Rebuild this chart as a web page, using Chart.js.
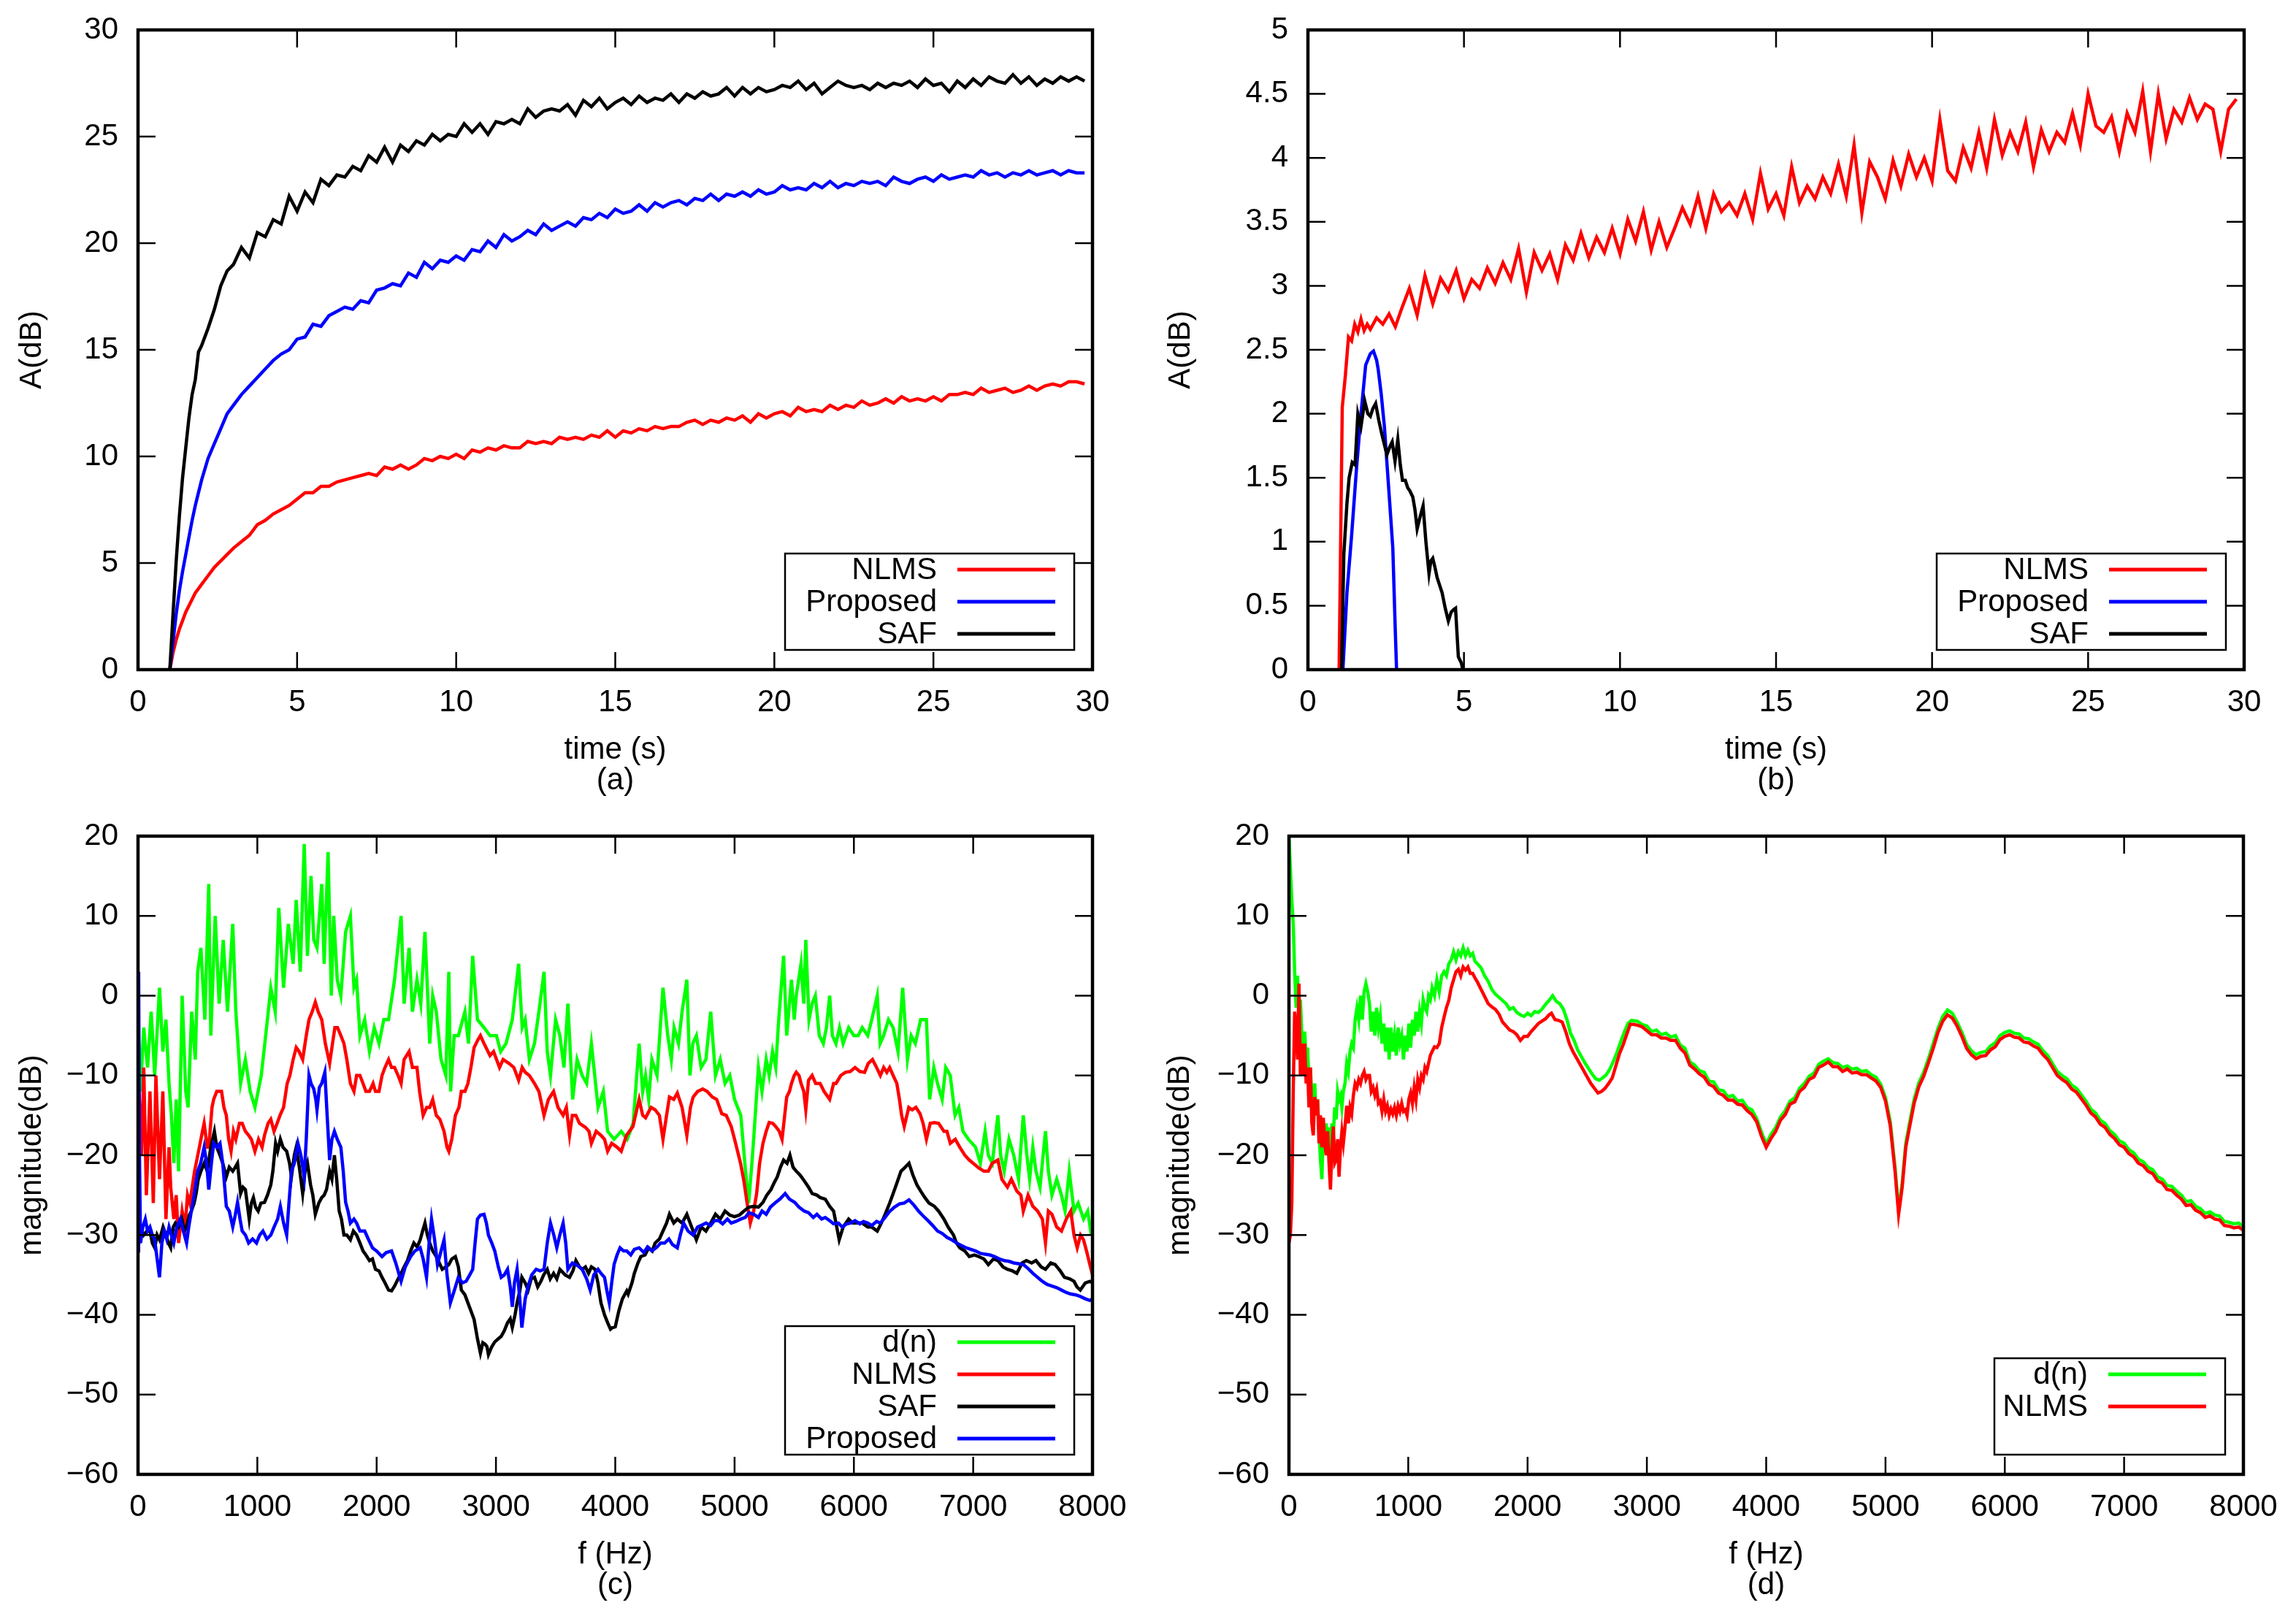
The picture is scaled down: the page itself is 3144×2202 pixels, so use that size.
<!DOCTYPE html>
<html>
<head>
<meta charset="utf-8">
<script src="https://cdn.jsdelivr.net/npm/chart.js@4.4.1/dist/chart.umd.min.js"></script>
<style>
  body { margin: 0; background: #fff; width: 3144px; height: 2202px; position: relative; overflow: hidden; }
  canvas { position: absolute; }
</style>
</head>
<body>
<canvas id="pa" width="1572" height="1101" style="left:0;top:0"></canvas>
<canvas id="pb" width="1572" height="1101" style="left:1572px;top:0"></canvas>
<canvas id="pc" width="1572" height="1101" style="left:0;top:1101px"></canvas>
<canvas id="pd" width="1572" height="1101" style="left:1572px;top:1101px"></canvas>
<script>
// time grid (s) shared by panels (a) and (b)
const timeS = [1,1.1,1.2,1.3,1.4,1.5,1.6,1.7,1.8,1.9,2,2.2,2.4,2.6,2.8,3,
  3.25,3.5,3.75,4,4.25,4.5,4.75,5,5.25,5.5,5.75,6,6.25,6.5,6.75,7,7.25,7.5,7.75,8,8.25,8.5,8.75,9,9.25,9.5,9.75,10,
  10.25,10.5,10.75,11,11.25,11.5,11.75,12,12.25,12.5,12.75,13,13.25,13.5,13.75,14,14.25,14.5,14.75,15,
  15.25,15.5,15.75,16,16.25,16.5,16.75,17,17.25,17.5,17.75,18,18.25,18.5,18.75,19,19.25,19.5,19.75,20,
  20.25,20.5,20.75,21,21.25,21.5,21.75,22,22.25,22.5,22.75,23,23.25,23.5,23.75,24,24.25,24.5,24.75,25,
  25.25,25.5,25.75,26,26.25,26.5,26.75,27,27.25,27.5,27.75,28,28.25,28.5,28.75,29,29.25,29.5,29.75];

// (a) A(dB)
const aNlms = [0,0.8,1.4,1.9,2.3,2.7,3.0,3.3,3.6,3.8,4.0,4.4,4.8,5.1,5.4,5.7,
  6.0,6.3,6.8,7.0,7.3,7.5,7.7,8.0,8.3,8.3,8.6,8.6,8.8,8.9,9.0,9.1,9.2,9.1,9.5,9.4,9.6,9.4,9.6,9.9,9.8,10.0,9.9,10.1,
  9.9,10.3,10.2,10.4,10.3,10.5,10.4,10.4,10.7,10.6,10.7,10.6,10.9,10.8,10.9,10.8,11.0,10.9,11.2,10.9,
  11.2,11.1,11.3,11.2,11.4,11.3,11.4,11.4,11.6,11.7,11.5,11.7,11.6,11.8,11.7,11.9,11.6,12.0,11.8,12.0,
  12.1,11.9,12.3,12.1,12.2,12.1,12.4,12.2,12.4,12.3,12.6,12.4,12.5,12.7,12.5,12.8,12.6,12.7,12.6,12.8,
  12.6,12.9,12.9,13.0,12.9,13.2,13.0,13.1,13.2,13.0,13.1,13.3,13.1,13.3,13.4,13.3,13.5,13.5,13.4];
const aProposed = [0,1.3,2.6,3.7,4.6,5.4,6.2,7.0,7.7,8.3,8.9,9.9,10.6,11.3,12.0,12.4,
  12.9,13.3,13.7,14.1,14.5,14.8,15.0,15.5,15.6,16.2,16.1,16.6,16.8,17.0,16.9,17.3,17.2,17.8,17.9,18.1,18.0,18.6,18.4,19.1,18.8,19.2,19.1,19.4,
  19.2,19.7,19.6,20.1,19.8,20.4,20.1,20.3,20.6,20.4,20.9,20.6,20.8,21.0,20.8,21.2,21.1,21.4,21.2,21.6,
  21.4,21.5,21.8,21.5,21.9,21.7,21.9,22.0,21.8,22.1,22.0,22.3,22.0,22.3,22.2,22.4,22.2,22.5,22.3,22.4,
  22.7,22.5,22.6,22.5,22.8,22.6,22.9,22.6,22.8,22.7,22.9,22.8,22.9,22.7,23.1,22.9,22.8,23.0,23.1,22.9,
  23.2,23.0,23.1,23.2,23.1,23.4,23.2,23.3,23.1,23.3,23.2,23.4,23.2,23.3,23.4,23.2,23.4,23.3,23.3];
const aSaf = [0,2.6,5.1,7.2,9.0,10.4,11.8,12.9,13.6,14.9,15.2,16.0,16.9,18.0,18.7,19.0,
  19.8,19.3,20.5,20.3,21.1,20.9,22.2,21.5,22.4,21.9,23.0,22.7,23.2,23.1,23.6,23.4,24.1,23.8,24.5,23.8,24.6,24.3,24.8,24.6,25.1,24.8,25.1,25.0,
  25.6,25.2,25.6,25.1,25.7,25.6,25.8,25.6,26.3,25.9,26.2,26.3,26.2,26.5,26.0,26.7,26.4,26.8,26.3,26.6,
  26.8,26.5,26.9,26.6,26.8,26.7,27.0,26.6,27.0,26.8,27.1,26.9,27.0,27.3,26.9,27.3,27.0,27.3,27.1,27.2,
  27.4,27.3,27.6,27.2,27.5,27.0,27.3,27.6,27.4,27.3,27.4,27.2,27.5,27.3,27.5,27.4,27.6,27.3,27.7,27.4,
  27.5,27.1,27.6,27.3,27.7,27.4,27.8,27.6,27.5,27.9,27.5,27.8,27.4,27.7,27.5,27.8,27.6,27.8,27.6];

// (b) A(dB)
const bNlms = [0,2.05,2.3,2.6,2.57,2.7,2.64,2.74,2.65,2.7,2.66,2.75,2.7,2.78,2.68,2.82,
  2.98,2.77,3.08,2.86,3.06,2.96,3.12,2.9,3.05,2.98,3.14,3.02,3.18,3.05,3.29,2.95,3.26,3.12,3.25,3.05,3.32,3.2,3.41,3.22,3.38,3.26,3.45,3.25,
  3.52,3.35,3.58,3.28,3.5,3.3,3.45,3.61,3.48,3.7,3.45,3.72,3.58,3.65,3.55,3.72,3.52,3.88,3.6,3.72,
  3.55,3.93,3.65,3.78,3.68,3.85,3.72,3.95,3.7,4.1,3.57,3.97,3.85,3.68,3.98,3.78,4.03,3.85,4.0,3.82,
  4.3,3.9,3.82,4.08,3.92,4.2,3.92,4.3,4.02,4.2,4.05,4.28,3.93,4.22,4.05,4.2,4.12,4.35,4.1,4.5,
  4.25,4.2,4.32,4.05,4.35,4.2,4.52,4.05,4.5,4.15,4.38,4.28,4.47,4.3,4.42,4.38,4.05,4.38,4.46];
const bProposed = [[1.12,0],[1.25,0.6],[1.4,1.05],[1.55,1.55],[1.7,2.0],[1.85,2.38],[2.0,2.47],[2.1,2.49],
  [2.2,2.42],[2.25,2.35],[2.35,2.15],[2.45,1.9],[2.55,1.55],[2.65,1.2],[2.72,0.95],[2.8,0.3],[2.84,0]];
const bSaf = [[1.08,0],[1.15,0.9],[1.25,1.3],[1.32,1.5],[1.42,1.62],[1.51,1.6],[1.6,2.0],[1.7,1.9],[1.82,2.1],[1.92,2.0],
  [2.0,1.98],[2.08,2.04],[2.17,2.08],[2.27,1.95],[2.36,1.85],[2.45,1.76],[2.53,1.68],[2.62,1.74],[2.7,1.78],[2.79,1.63],
  [2.88,1.8],[2.96,1.6],[3.03,1.48],[3.12,1.48],[3.2,1.42],[3.26,1.4],[3.36,1.35],[3.43,1.25],[3.5,1.1],[3.6,1.2],
  [3.69,1.28],[3.78,1.0],[3.88,0.75],[3.94,0.85],[4.0,0.87],[4.07,0.8],[4.14,0.72],[4.22,0.66],[4.3,0.6],[4.4,0.48],
  [4.5,0.38],[4.59,0.45],[4.67,0.47],[4.73,0.48],[4.82,0.1],[4.92,0.05],[4.96,0]];

// (c) magnitude(dB) against f (Hz)
const cDn = [[0,-3],[20,-12],[48,-4],[80,-9],[110,-2],[140,-10],[180,1],[208,-7],[234,-3],[260,-11],
  [280,-15],[300,-21],[320,-13],[340,-22],[370,0],[400,-12],[420,-14],[450,-2],[480,-8],[500,3],
  [527,6],[560,-3],[593,14],[610,-5],[647,10],[680,-1],[714,7],[750,-2],[794,9],[820,-2],
  [860,-11],[900,-8],[940,-12],[980,-14],[1033,-10],[1070,-5],[1113,1],[1150,-2],[1180,11],[1220,1],
  [1260,9],[1300,4],[1326,12],[1360,3],[1393,19],[1420,5],[1450,15],[1473,7],[1500,6],[1540,14],
  [1560,4],[1593,18],[1620,0],[1640,10],[1670,2],[1700,0],[1740,8],[1780,10],[1810,1],[1832,2],
  [1860,-5],[1900,-3],[1940,-7],[1980,-4],[2020,-6],[2060,-3],[2100,-3],[2150,2],[2205,10],[2230,-1],
  [2272,6],[2300,-2],[2338,2],[2370,-1],[2405,8],[2445,-6],[2470,0],[2500,-2],[2540,-8],[2580,-10],
  [2605,3],[2620,-12],[2650,-5],[2685,-5],[2740,-2],[2770,-6],[2805,5],[2845,-3],[2900,-4],[2950,-5],
  [3004,-5],[3040,-7],[3084,-6],[3137,-3],[3190,4],[3220,-4],[3245,-3],[3280,-8],[3323,-6],[3360,-2],
  [3403,3],[3430,-7],[3457,-10],[3500,-3],[3536,-5],[3570,-9],[3603,-1],[3643,-13],[3680,-8],[3723,-10],
  [3760,-11],[3800,-6],[3856,-14],[3900,-12],[3936,-17],[3990,-18],[4050,-17],[4100,-18],[4150,-16],[4200,-6],
  [4230,-12],[4254,-10],[4280,-13],[4307,-8],[4350,-10],[4400,1],[4440,-5],[4470,-8],[4493,-4],[4530,-6],
  [4560,-2],[4600,2],[4626,-10],[4650,-6],[4680,-5],[4720,-9],[4760,-8],[4800,-2],[4840,-10],[4880,-8],
  [4920,-11],[4960,-10],[5000,-13],[5052,-15],[5092,-22],[5118,-26],[5140,-22],[5160,-18],[5200,-9],[5230,-12],
  [5265,-8],[5290,-10],[5318,-7],[5345,-9],[5370,-3],[5411,5],[5437,-5],[5460,-1],[5477,2],[5500,-3],
  [5517,0],[5557,4],[5580,-1],[5597,7],[5624,-3],[5650,-1],[5677,0],[5710,-5],[5744,-6],[5770,-4],
  [5797,0],[5820,-5],[5850,-6],[5880,-4],[5910,-6],[5956,-4],[6000,-5],[6036,-5],[6070,-4],[6116,-5],
  [6150,-3],[6196,0],[6220,-6],[6249,-5],[6290,-3],[6329,-4],[6370,-7],[6409,1],[6449,-8],[6480,-5],
  [6515,-6],[6560,-3],[6608,-3],[6635,-13],[6670,-9],[6701,-11],[6740,-13],[6770,-9],[6808,-10],[6848,-15],
  [6880,-14],[6914,-17],[6960,-18],[7020,-19],[7060,-21],[7100,-17],[7127,-20],[7160,-21],[7207,-15],[7230,-20],
  [7260,-22],[7300,-18],[7340,-20],[7380,-23],[7420,-15],[7450,-20],[7473,-23],[7500,-19],[7526,-22],[7560,-24],
  [7606,-17],[7630,-22],[7660,-25],[7700,-23],[7740,-25],[7770,-27],[7805,-22],[7845,-27],[7880,-26],[7925,-28],
  [7960,-27],[7990,-30]];
const cNlms = [[0,-9],[30,-20],[48,-9],[70,-25],[100,-12],[128,-26],[150,-10],[180,-23],[208,-12],[234,-28],
  [260,-19],[274,-24],[300,-28],[320,-25],[340,-31],[370,-27],[394,-29],[415,-25],[434,-26],[474,-22],
  [514,-19],[540,-17],[554,-16],[580,-19],[593,-19],[620,-14],[634,-13],[660,-12],[700,-12],[720,-14],
  [740,-15],[760,-18],[780,-19.5],[800,-17],[820,-18],[850,-16],[873,-16],[900,-17],[927,-17.5],[950,-18],
  [980,-19.5],[1010,-18],[1040,-19],[1060,-17.5],[1090,-16],[1113,-15.5],[1140,-17],[1166,-16],[1190,-15],[1220,-14],
  [1250,-11],[1273,-10],[1300,-8],[1326,-6.5],[1350,-7],[1380,-8],[1410,-5],[1433,-3],[1460,-2],[1486,-0.8],
  [1510,-2],[1540,-3],[1570,-6],[1606,-8.5],[1630,-6],[1650,-4],[1672,-4],[1700,-5],[1726,-6],[1750,-8],
  [1780,-11],[1810,-12],[1832,-10],[1860,-10],[1886,-11],[1910,-12],[1940,-12],[1970,-11],[1990,-12],[2020,-12],
  [2045,-10],[2070,-9],[2100,-8],[2125,-9],[2150,-9],[2180,-10],[2205,-11],[2230,-8],[2272,-7],[2300,-9],
  [2338,-9],[2360,-12],[2390,-15],[2420,-14],[2445,-14],[2470,-13],[2500,-15],[2530,-15.5],[2565,-17],[2590,-19],
  [2605,-19.5],[2630,-18],[2660,-15],[2690,-14],[2710,-12],[2740,-12],[2765,-11],[2790,-9],[2817,-6.5],[2850,-5.5],
  [2870,-5],[2900,-6],[2950,-7.5],[2980,-7],[3030,-9],[3060,-8],[3110,-8.5],[3150,-9],[3190,-10.6],[3220,-9],
  [3245,-9.6],[3280,-10],[3323,-11],[3360,-12],[3403,-15],[3440,-13],[3483,-12],[3520,-14],[3563,-15],[3590,-14],
  [3617,-17.5],[3640,-15],[3670,-15],[3700,-16],[3750,-16.5],[3780,-17],[3800,-18.5],[3840,-17],[3880,-17.5],[3910,-18],
  [3936,-19.5],[3970,-18.5],[4016,-19],[4050,-19.5],[4094,-17.5],[4148,-16.4],[4200,-13],[4230,-15],[4254,-15.3],[4300,-14],
  [4334,-14.3],[4370,-15],[4400,-18],[4430,-15],[4454,-12.7],[4490,-13],[4520,-12.2],[4560,-14],[4600,-17.5],[4630,-14],
  [4653,-12.7],[4690,-12],[4733,-11.7],[4770,-12],[4813,-12.7],[4850,-13],[4893,-14.8],[4930,-15],[4972,-16.4],[5000,-18],
  [5025,-19.5],[5050,-21],[5078,-23.2],[5105,-26],[5132,-28.5],[5160,-27],[5185,-24.8],[5210,-21],[5238,-18.5],[5265,-17],
  [5290,-15.9],[5320,-16],[5345,-16.4],[5375,-17],[5398,-18],[5420,-15],[5437,-12.7],[5460,-12],[5477,-11],[5500,-10],
  [5517,-9.6],[5540,-10],[5557,-11],[5580,-12],[5597,-14.3],[5620,-10.6],[5650,-10],[5680,-11],[5717,-11],[5750,-12],
  [5797,-13],[5830,-11],[5850,-11],[5890,-10],[5930,-9.6],[5970,-9.5],[6010,-9],[6050,-9.5],[6090,-9.6],[6120,-8.5],
  [6156,-8],[6190,-9],[6222,-10],[6250,-9],[6276,-9.6],[6300,-9],[6329,-10],[6360,-11],[6382,-13],[6400,-15],
  [6422,-16.4],[6460,-14],[6489,-14.3],[6520,-14],[6555,-14.8],[6580,-16],[6608,-18],[6640,-16],[6675,-15.9],[6710,-16],
  [6755,-17],[6780,-17],[6808,-18.5],[6850,-18],[6888,-19],[6930,-20],[6967,-20.6],[7000,-21],[7047,-21.6],[7090,-22],
  [7127,-22],[7160,-21],[7207,-20.6],[7240,-23],[7287,-24],[7320,-23],[7366,-24.5],[7400,-25],[7420,-27],[7460,-25],
  [7500,-26.4],[7540,-27],[7580,-28],[7606,-31],[7630,-27],[7660,-27.4],[7700,-29],[7740,-29.5],[7780,-28],[7818,-27],
  [7845,-30],[7872,-31.6],[7900,-30],[7925,-30.6],[7950,-32],[7978,-33.7],[8000,-35]];
const cSaf = [[0,-32],[20,-29],[48,-30],[75,-29.5],[100,-29.5],[120,-31],[140,-31.6],[160,-30],[180,-30.6],[210,-29],
  [234,-30],[255,-31],[274,-31.6],[295,-29],[314,-28.5],[340,-29],[367,-28],[390,-29.5],[407,-29],[430,-27.5],
  [447,-27],[470,-26],[487,-24.8],[505,-23],[527,-22],[555,-21],[580,-22],[610,-19],[640,-17],[660,-19],
  [687,-20],[710,-21],[740,-22.7],[765,-21.5],[794,-22],[815,-21.5],[834,-21],[860,-24.8],[880,-24],[900,-24.3],
  [932,-28],[950,-26],[967,-25.3],[985,-26.5],[1007,-27],[1030,-26],[1060,-25.9],[1085,-25],[1113,-23.7],[1130,-22],
  [1153,-18.5],[1170,-19.5],[1193,-18],[1215,-19],[1246,-19.5],[1270,-21],[1286,-22.7],[1310,-20],[1326,-19],[1353,-21.6],
  [1380,-24.8],[1400,-22],[1420,-21],[1446,-23.7],[1465,-25],[1486,-27.4],[1515,-26],[1540,-25.3],[1560,-25],[1580,-24.3],
  [1606,-22],[1625,-23],[1646,-20],[1665,-23],[1686,-27],[1705,-28],[1726,-30],[1750,-30],[1780,-30.6],[1805,-29.5],
  [1832,-30],[1860,-31],[1886,-32],[1910,-32.5],[1940,-33.2],[1965,-33],[1990,-34.3],[2020,-34.5],[2045,-35.3],[2070,-36],
  [2100,-36.9],[2125,-37],[2150,-36.4],[2180,-35.5],[2205,-34.8],[2230,-34],[2258,-33.2],[2285,-32],[2312,-31],[2340,-31.5],
  [2365,-30.6],[2385,-29.5],[2405,-28.5],[2425,-30],[2445,-31],[2470,-32],[2500,-32.7],[2525,-33.5],[2550,-34.3],[2580,-34],
  [2605,-33.7],[2630,-33],[2660,-32.7],[2685,-34],[2710,-36.9],[2740,-37.5],[2765,-38.5],[2790,-39.5],[2817,-40.6],[2845,-43],
  [2870,-44.8],[2890,-43.5],[2910,-43.7],[2925,-44],[2937,-45],[2965,-44],[2990,-43.4],[3020,-43],[3044,-42.7],[3070,-42],
  [3097,-41],[3120,-40.5],[3137,-41.6],[3160,-40],[3177,-38.5],[3200,-37],[3217,-35.3],[3245,-36],[3270,-36.9],[3295,-35.5],
  [3323,-35.3],[3350,-36.5],[3377,-35.8],[3400,-35],[3430,-34.3],[3455,-35.5],[3483,-34.8],[3510,-35.5],[3536,-34.3],[3580,-35],
  [3617,-35.3],[3645,-34.5],[3670,-33.2],[3700,-34],[3723,-34.3],[3750,-34],[3776,-34.8],[3800,-34],[3830,-34.3],[3855,-36],
  [3880,-38.5],[3910,-40],[3936,-41],[3960,-41.8],[3976,-41.6],[4000,-41.5],[4030,-39.5],[4060,-38],[4096,-37],[4108,-37.4],
  [4140,-36],[4160,-34.8],[4190,-33.5],[4214,-32.7],[4250,-32.5],[4280,-31.6],[4310,-32],[4334,-31],[4370,-30.5],[4400,-29.5],
  [4430,-28.5],[4454,-27.4],[4490,-28.5],[4520,-28],[4560,-28.5],[4600,-27.4],[4640,-29],[4680,-30.6],[4720,-29],[4760,-29.5],
  [4800,-28.5],[4840,-27.4],[4880,-28],[4920,-27],[4960,-27.5],[5000,-27.7],[5040,-27.5],[5078,-27],[5120,-26.5],[5160,-26.4],
  [5200,-26.5],[5238,-25.9],[5270,-25],[5305,-24.3],[5330,-23.5],[5358,-22.7],[5385,-21.5],[5411,-20.6],[5440,-21],[5464,-20],
  [5490,-21.5],[5517,-22],[5550,-22.5],[5584,-23.2],[5620,-24],[5650,-24.8],[5690,-25],[5717,-25.3],[5760,-25.5],[5797,-26.4],
  [5830,-27],[5850,-28.5],[5877,-30.6],[5910,-29],[5956,-28],[5990,-28.5],[6036,-28.5],[6070,-28.5],[6116,-29],[6150,-29],
  [6196,-29.5],[6230,-28.5],[6262,-27.4],[6300,-26],[6329,-24.8],[6360,-23.5],[6395,-22],[6430,-21.5],[6462,-21],[6495,-22.5],
  [6528,-23.7],[6560,-24.5],[6595,-25.3],[6630,-26],[6675,-26.4],[6710,-27],[6755,-28],[6790,-29],[6835,-30],[6860,-31],
  [6888,-31.6],[6930,-32],[6967,-32.7],[7010,-32.5],[7047,-32.7],[7090,-33],[7127,-33.7],[7170,-33],[7207,-33.2],[7250,-34],
  [7287,-34.3],[7330,-34.5],[7366,-34.8],[7410,-33.5],[7446,-33.2],[7490,-33.5],[7526,-33.2],[7570,-34],[7606,-34.3],[7650,-33.5],
  [7686,-33.7],[7730,-34.5],[7765,-35.3],[7810,-35.5],[7845,-35.8],[7870,-36.5],[7898,-36.9],[7940,-36],[7978,-35.8],[8000,-36]];
const cProposed = [[0,-32],[5,3],[12,-20],[21,-31],[40,-29],[61,-28],[80,-29.5],[100,-29],[120,-30],[140,-30.6],
  [160,-33],[180,-35.3],[200,-31],[220,-29.5],[240,-30.5],[260,-29],[280,-30],[300,-31],[325,-29],[354,-28],
  [380,-29.5],[407,-31],[425,-29],[447,-27],[470,-25],[500,-22],[525,-21],[554,-19],[575,-21],[593,-24.3],
  [615,-21],[634,-18.5],[660,-19],[687,-18.5],[710,-21],[740,-26.4],[765,-27],[794,-29],[815,-27.5],[834,-25.9],
  [855,-28],[873,-29.5],[900,-30],[927,-31],[960,-30.5],[993,-31],[1020,-30],[1047,-29.5],[1080,-30.5],[1113,-30],
  [1140,-29],[1170,-28],[1193,-26.4],[1220,-28.5],[1246,-30],[1265,-26],[1286,-22],[1310,-21],[1340,-18.5],[1365,-20],
  [1393,-22.7],[1410,-18],[1433,-10],[1450,-11],[1473,-11.7],[1490,-13],[1500,-14.3],[1520,-11.5],[1540,-11],[1566,-9.6],
  [1585,-15],[1606,-20.6],[1625,-18],[1646,-17],[1670,-18],[1700,-19],[1720,-22],[1740,-25.9],[1760,-27],[1780,-28.5],
  [1810,-28],[1832,-28.5],[1860,-29.5],[1900,-29.5],[1930,-30.5],[1965,-31.6],[2000,-32],[2045,-32.7],[2080,-32.2],[2125,-32],
  [2160,-33.5],[2205,-35.8],[2240,-34],[2285,-32.7],[2320,-32],[2365,-31.6],[2390,-33],[2418,-35.3],[2440,-31],[2460,-28],
  [2485,-30.5],[2510,-33.7],[2540,-32],[2565,-30.6],[2590,-35],[2618,-38.5],[2650,-37],[2685,-35.3],[2720,-36],[2750,-35.8],
  [2780,-35],[2805,-34.3],[2825,-31],[2845,-28],[2870,-27.5],[2900,-27.4],[2920,-28.5],[2937,-30],[2965,-31],[2990,-32],
  [3020,-34],[3044,-35.3],[3070,-35],[3097,-34.3],[3120,-36.5],[3137,-39],[3155,-36],[3177,-34.3],[3200,-38],[3217,-41.6],
  [3245,-38],[3270,-36.4],[3300,-35],[3337,-34.3],[3370,-34.5],[3403,-34.3],[3430,-31],[3457,-28.5],[3485,-30],[3510,-31.6],
  [3535,-30],[3563,-28.5],[3585,-31],[3603,-34.3],[3640,-33.5],[3670,-33.7],[3700,-34],[3723,-34.3],[3760,-35.5],[3790,-36.9],
  [3820,-35],[3856,-34.3],[3880,-34.8],[3910,-35.3],[3930,-37],[3950,-38.5],[3970,-36],[3990,-33.7],[4015,-32.5],[4040,-31.6],
  [4070,-32],[4096,-32],[4130,-32.5],[4160,-31.8],[4200,-31.6],[4240,-32.2],[4270,-31.5],[4307,-32],[4350,-31.5],[4380,-31],
  [4414,-31],[4450,-30.5],[4480,-31.2],[4520,-31.6],[4545,-30],[4573,-28.5],[4610,-29.5],[4653,-30],[4690,-29],[4720,-28.8],
  [4760,-28.5],[4800,-28.8],[4830,-28.2],[4866,-28.2],[4900,-28.6],[4940,-28],[4972,-28.5],[5010,-28.3],[5052,-28],[5090,-27.8],
  [5120,-27.2],[5160,-27.4],[5200,-27.8],[5230,-27],[5265,-27.4],[5300,-26.5],[5345,-25.9],[5380,-25.5],[5424,-24.8],[5460,-25.5],
  [5504,-25.9],[5540,-26.5],[5584,-27],[5620,-27.2],[5660,-27.8],[5690,-27.4],[5730,-28],[5760,-27.8],[5797,-28.2],[5830,-28.6],
  [5870,-28.5],[5903,-29],[5940,-28.6],[5970,-28.5],[6010,-28.2],[6050,-28.6],[6080,-28.3],[6116,-28.5],[6150,-28.8],[6190,-28.3],
  [6222,-28.5],[6260,-27.8],[6302,-27],[6340,-26.5],[6382,-26.1],[6420,-26],[6462,-25.6],[6500,-26.2],[6542,-27],[6580,-27.6],
  [6622,-28.2],[6660,-28.8],[6701,-29.5],[6740,-29.8],[6781,-30.3],[6820,-30.6],[6861,-31],[6900,-31.3],[6940,-31.6],[6980,-31.8],
  [7020,-32],[7060,-32.3],[7100,-32.4],[7140,-32.5],[7180,-32.7],[7220,-33],[7260,-33.2],[7300,-33.3],[7340,-33.5],[7380,-33.6],
  [7420,-33.7],[7460,-34.2],[7500,-34.8],[7540,-35.3],[7580,-35.8],[7620,-36.2],[7660,-36.4],[7700,-36.6],[7740,-36.9],[7780,-37.2],
  [7818,-37.4],[7860,-37.5],[7898,-37.7],[7940,-38],[7978,-38.2],[8000,-38]];

// (d) magnitude(dB) against f (Hz)
const dDn = [[0,20],[12,16],[24,12],[36,9],[48,3],[60,-1.5],[72,2.5],[84,-3],[96,-0.5],[108,-5],
  [120,-7.5],[132,-4.5],[144,-8],[156,-6.5],[168,-11],[180,-9],[192,-13],[204,-16],[216,-11],[228,-15],
  [240,-13],[252,-17],[264,-20.5],[276,-23],[288,-17],[300,-18.5],[312,-16],[324,-19.5],[336,-16.5],[348,-20.5],
  [360,-16],[372,-17.5],[384,-14],[396,-15.5],[408,-12],[420,-13],[432,-12.5],[444,-14],[456,-12],[470,-11],
  [484,-8.5],[498,-9.5],[512,-7],[526,-6],[540,-6.5],[555,-3],[570,-1.5],[585,-3],[600,0],[615,-3],
  [630,0.5],[645,1.5],[660,0.5],[675,-1],[690,-4.5],[705,-2],[720,-5],[735,-1.5],[750,-4],[765,-2.5],
  [780,-6],[795,-3.5],[810,-7],[825,-4],[840,-8],[855,-4],[870,-7],[885,-5],[900,-7.5],[915,-4],
  [930,-6],[945,-5],[960,-8],[975,-5],[990,-7],[1005,-3.5],[1020,-6.5],[1035,-3],[1050,-5],[1065,-2],
  [1080,-4.5],[1095,-2],[1110,-3.5],[1125,-0.5],[1140,-1.5],[1155,-2],[1170,0],[1185,-0.5],[1200,1],[1220,0],
  [1240,2],[1260,0.5],[1280,2.5],[1300,3],[1320,2.5],[1340,4],[1360,4.5],[1380,5.5],[1400,4.5],[1420,5.5],
  [1440,5],[1460,6],[1480,5],[1500,5.7],[1520,5],[1540,5.3],[1560,4.3],[1580,4],[1610,3.5],[1640,2.5],
  [1670,1.8],[1700,0.8],[1730,0.2],[1760,-0.2],[1790,-0.6],[1820,-1],[1850,-1.7],[1880,-1.5],[1910,-2.1],[1940,-2.4],
  [1970,-2.6],[2000,-2.2],[2030,-2.5],[2060,-2],[2090,-2.1],[2120,-1.7],[2150,-1.1],[2180,-0.6],[2210,0],[2240,-0.7],
  [2270,-1],[2300,-1.7],[2330,-3],[2360,-4.7],[2390,-5.6],[2420,-6.8],[2450,-7.6],[2480,-8.4],[2510,-9.1],[2540,-9.8],
  [2570,-10.4],[2600,-10.6],[2630,-10.3],[2660,-9.9],[2690,-9.2],[2720,-8.2],[2750,-7.1],[2780,-5.8],[2810,-4.6],[2840,-3.5],
  [2870,-3.1],[2920,-3.2],[2960,-3.6],[3000,-3.8],[3040,-4.5],[3080,-4.3],[3120,-4.9],[3160,-4.7],[3200,-5.2],[3240,-5.0],
  [3280,-6.2],[3320,-6.6],[3360,-8.3],[3400,-8.7],[3440,-9.4],[3480,-9.6],[3520,-10.7],[3560,-10.8],[3600,-11.8],[3640,-11.9],
  [3680,-12.7],[3720,-12.5],[3760,-13.2],[3800,-13.1],[3840,-14.0],[3880,-14.3],[3920,-15.4],[3960,-17.1],[4000,-18.6],[4040,-17.4],
  [4080,-16.5],[4120,-15.2],[4160,-14.4],[4200,-13.2],[4240,-12.8],[4280,-11.6],[4320,-11.0],[4360,-10.1],[4400,-9.7],[4440,-8.6],
  [4480,-8.2],[4520,-7.9],[4560,-8.4],[4600,-8.5],[4640,-9.0],[4680,-8.8],[4720,-9.2],[4760,-9.1],[4800,-9.5],[4840,-9.4],
  [4880,-9.9],[4920,-10.2],[4960,-11.1],[5000,-12.8],[5040,-15.8],[5080,-21.5],[5110,-26.9],[5140,-23.5],[5170,-18.5],[5200,-16.1],
  [5240,-13.0],[5280,-10.9],[5320,-9.6],[5360,-7.9],[5400,-6.0],[5440,-4.1],[5480,-2.6],[5520,-1.8],[5560,-2.2],[5600,-3.3],
  [5640,-4.6],[5680,-6.1],[5720,-6.9],[5760,-7.4],[5800,-7.1],[5840,-7.0],[5880,-6.3],[5920,-5.9],[5960,-5.0],[6000,-4.6],
  [6040,-4.4],[6080,-4.7],[6120,-4.8],[6160,-5.3],[6200,-5.4],[6240,-5.8],[6280,-6.1],[6320,-6.9],[6360,-7.5],[6400,-8.5],
  [6440,-9.5],[6480,-10.0],[6520,-10.4],[6560,-11.2],[6600,-11.6],[6640,-12.4],[6680,-13.2],[6720,-14.2],[6760,-14.7],[6800,-15.6],
  [6840,-16.0],[6880,-16.9],[6920,-17.4],[6960,-18.2],[7000,-18.5],[7040,-19.3],[7080,-19.7],[7120,-20.5],[7160,-20.8],[7200,-21.5],
  [7240,-21.8],[7280,-22.7],[7320,-23.0],[7360,-23.8],[7400,-23.9],[7440,-24.5],[7480,-25.0],[7520,-25.8],[7560,-25.7],[7600,-26.4],
  [7640,-26.7],[7680,-27.3],[7720,-27.1],[7760,-27.5],[7800,-27.6],[7840,-28.3],[7880,-28.4],[7920,-28.6],[7960,-28.5],[8000,-28.9]];
const dNlms = [[0,-31],[12,-30],[24,-26],[36,-12],[48,-2],[60,-4],[72,-8],[84,1.5],[96,-10],[108,-6],
  [120,-10],[132,-6],[144,-11],[156,-9],[168,-14],[180,-9],[192,-16],[204,-17.5],[216,-12.7],[228,-15],
  [240,-13],[252,-18.5],[264,-15],[276,-19],[288,-15.3],[300,-18.5],[312,-20],[324,-17],[336,-21],[348,-24.3],
  [360,-19],[372,-16.4],[384,-21],[396,-20.6],[408,-18],[420,-22.7],[432,-19],[444,-17],[456,-18.5],[470,-16.4],
  [484,-13.8],[498,-16],[512,-14],[526,-14.8],[540,-12.5],[555,-11],[570,-11.5],[585,-10.5],[600,-11],[615,-10],
  [630,-9.5],[645,-10.5],[660,-10],[675,-10],[690,-12],[705,-11.5],[720,-12.5],[735,-11.7],[750,-13.5],[765,-13.2],
  [780,-14.5],[795,-13],[810,-14.5],[825,-13.8],[840,-15],[855,-14.2],[870,-14.8],[885,-14],[900,-15],[915,-13.8],
  [930,-14.5],[945,-13.5],[960,-14.5],[975,-14.3],[990,-15],[1005,-13],[1020,-12.2],[1035,-13.5],[1050,-11.5],[1065,-13],
  [1080,-10.5],[1095,-11.5],[1110,-10],[1125,-10.5],[1140,-9],[1155,-9.5],[1170,-8.5],[1185,-7.5],[1200,-7],[1220,-6.4],
  [1240,-6.5],[1260,-6],[1280,-4],[1300,-2.7],[1320,-1.5],[1340,-0.6],[1360,1],[1380,2],[1400,3],[1420,3.3],
  [1440,2.5],[1460,3.6],[1480,3.2],[1500,3.6],[1520,2.8],[1540,2.8],[1560,2.2],[1580,1.7],[1610,0.8],[1640,-0.1],
  [1670,-1],[1700,-1.4],[1730,-1.7],[1760,-2.3],[1790,-3.3],[1820,-3.8],[1850,-4.3],[1880,-4.5],[1910,-4.9],[1940,-5.6],
  [1970,-5.1],[2000,-5.1],[2030,-4.5],[2060,-4],[2090,-3.5],[2120,-3.2],[2150,-2.9],[2180,-2.4],[2200,-2.2],[2230,-3],
  [2260,-3.1],[2290,-3.3],[2320,-4.5],[2350,-6],[2380,-7],[2410,-7.8],[2440,-8.6],[2470,-9.4],[2500,-10.2],[2530,-11],
  [2560,-11.6],[2590,-12.2],[2620,-12],[2650,-11.6],[2680,-11],[2710,-10.3],[2740,-8.8],[2770,-7.3],[2800,-6.2],[2830,-4.9],
  [2860,-3.6],[2890,-3.6],[2920,-3.7],[2960,-3.9],[3000,-4.4],[3040,-4.9],[3080,-4.9],[3120,-5.3],[3160,-5.3],[3200,-5.6],
  [3240,-5.6],[3280,-6.6],[3320,-7.2],[3360,-8.7],[3400,-9.2],[3440,-9.8],[3480,-10.2],[3520,-11.1],[3560,-11.4],[3600,-12.2],
  [3640,-12.5],[3680,-13.1],[3720,-13.1],[3760,-13.6],[3800,-13.7],[3840,-14.4],[3880,-14.9],[3920,-15.8],[3960,-17.6],[4000,-19.0],
  [4040,-17.9],[4080,-17.0],[4120,-15.6],[4160,-14.9],[4200,-13.6],[4240,-13.3],[4280,-12.0],[4320,-11.5],[4360,-10.5],[4400,-10.2],
  [4440,-9.0],[4480,-8.7],[4520,-8.3],[4560,-8.9],[4600,-8.9],[4640,-9.5],[4680,-9.2],[4720,-9.7],[4760,-9.6],[4800,-9.9],
  [4840,-9.9],[4880,-10.3],[4920,-10.7],[4960,-11.5],[5000,-13.2],[5040,-16.3],[5080,-22.0],[5110,-27.4],[5140,-24.0],[5170,-19.0],
  [5200,-16.6],[5240,-13.5],[5280,-11.4],[5320,-10.1],[5360,-8.4],[5400,-6.6],[5440,-4.6],[5480,-3.2],[5520,-2.4],[5560,-2.8],
  [5600,-3.8],[5640,-5.1],[5680,-6.6],[5720,-7.4],[5760,-7.9],[5800,-7.6],[5840,-7.5],[5880,-6.8],[5920,-6.4],[5960,-5.5],
  [6000,-5.1],[6040,-4.9],[6080,-5.2],[6120,-5.3],[6160,-5.8],[6200,-5.9],[6240,-6.3],[6280,-6.6],[6320,-7.4],[6360,-8.0],
  [6400,-9.0],[6440,-10.0],[6480,-10.5],[6520,-10.9],[6560,-11.7],[6600,-12.1],[6640,-12.9],[6680,-13.7],[6720,-14.7],[6760,-15.2],
  [6800,-16.1],[6840,-16.5],[6880,-17.4],[6920,-17.9],[6960,-18.7],[7000,-19.0],[7040,-19.8],[7080,-20.2],[7120,-21.0],[7160,-21.3],
  [7200,-22.0],[7240,-22.3],[7280,-23.2],[7320,-23.5],[7360,-24.3],[7400,-24.4],[7440,-25.0],[7480,-25.5],[7520,-26.3],[7560,-26.2],
  [7600,-26.9],[7640,-27.2],[7680,-27.8],[7720,-27.6],[7760,-28.0],[7800,-28.1],[7840,-28.8],[7880,-28.9],[7920,-29.1],[7960,-29.0],[8000,-29.4]];

const RED = '#ff0000', BLUE = '#0000ff', BLACK = '#000000', GREEN = '#00ff00';
const FONT = '"Liberation Sans", Arial, Helvetica, sans-serif';
const FONT_PX = 42;

function fromTime(ys) { return timeS.map((t, i) => ({ x: t, y: ys[i] })); }
function fromPairs(p) { return p.map(([x, y]) => ({ x, y })); }
function fmt(v) { return v < 0 ? '\u2212' + Math.abs(v) : String(v); }

// gnuplot-like border, mirrored inward ticks, key box and labels
function gnuFrame(cfg) {
  return {
    id: 'gnuFrame',
    afterDraw(chart) {
      const { ctx, chartArea: a, scales: { x, y } } = chart;
      ctx.save();
      ctx.strokeStyle = '#000';
      ctx.lineWidth = 2.5;
      const tl = 24;
      ctx.beginPath();
      x.ticks.forEach(t => {
        const px = x.getPixelForValue(t.value);
        ctx.moveTo(px, a.bottom); ctx.lineTo(px, a.bottom - tl);
        ctx.moveTo(px, a.top); ctx.lineTo(px, a.top + tl);
      });
      y.ticks.forEach(t => {
        const py = y.getPixelForValue(t.value);
        ctx.moveTo(a.left, py); ctx.lineTo(a.left + tl, py);
        ctx.moveTo(a.right, py); ctx.lineTo(a.right - tl, py);
      });
      ctx.stroke();
      ctx.lineWidth = 4.5;
      ctx.strokeRect(a.left, a.top, a.right - a.left, a.bottom - a.top);

      // key
      const rowH = 44;
      const bx2 = a.right - 25, by2 = a.bottom - 27;
      const bx1 = bx2 - cfg.keyW, by1 = by2 - cfg.keyRows * rowH;
      ctx.fillStyle = '#fff';
      ctx.fillRect(bx1, by1, cfg.keyW, by2 - by1);
      ctx.lineWidth = 2.5;
      ctx.strokeRect(bx1, by1, cfg.keyW, by2 - by1);
      ctx.font = FONT_PX + 'px ' + FONT;
      ctx.textAlign = 'right';
      ctx.textBaseline = 'middle';
      cfg.lines.forEach((l, i) => {
        const ry = by1 + 22 + i * rowH;
        ctx.fillStyle = '#000';
        ctx.fillText(l.label, bx2 - 188, ry + 1);
        ctx.strokeStyle = l.color;
        ctx.lineWidth = 5;
        ctx.beginPath(); ctx.moveTo(bx2 - 160, ry); ctx.lineTo(bx2 - 26, ry); ctx.stroke();
      });

      // axis titles and caption
      ctx.fillStyle = '#000';
      ctx.textAlign = 'center';
      const cx = (a.left + a.right) / 2, cy = (a.top + a.bottom) / 2;
      ctx.fillText(cfg.xTitle, cx, a.bottom + 110);
      ctx.fillText(cfg.caption, cx, a.bottom + 152);
      ctx.translate(a.left - cfg.yTitleOff, cy);
      ctx.rotate(-Math.PI / 2);
      ctx.fillText(cfg.yTitle, 0, 0);
      ctx.restore();
    }
  };
}

function panel(id, cfg) {
  const n = cfg.lines.length;
  const tickFont = { family: FONT, size: FONT_PX };
  const [L, T, R, B] = cfg.area;
  const cw = 1572, chh = 1101;
  const pad = { left: 0, top: T, right: cw - R, bottom: 0 };
  const fitSize = { w: L, h: chh - B };
  const chart = new Chart(document.getElementById(id), {
    type: 'line',
    data: {
      datasets: cfg.lines.map((l, i) => ({
        label: l.label, data: l.data, borderColor: l.color, borderWidth: 4.5,
        pointRadius: 0, tension: 0, fill: false, order: n - i, clip: 0
      }))
    },
    options: {
      responsive: false, animation: false, devicePixelRatio: 1,
      layout: { padding: pad },
      plugins: { legend: { display: false }, tooltip: { enabled: false } },
      scales: {
        x: {
          type: 'linear', min: cfg.x[0], max: cfg.x[1],
          ticks: { stepSize: cfg.x[2], padding: 20, font: tickFont, color: '#000', callback: fmt, maxRotation: 0, autoSkip: false },
          grid: { display: false, drawTicks: false }, border: { display: false },
          afterFit: s => { s.height = fitSize.h; s.paddingLeft = 0; s.paddingRight = 0; }
        },
        y: {
          type: 'linear', min: cfg.y[0], max: cfg.y[1],
          ticks: { stepSize: cfg.y[2], padding: 27, font: tickFont, color: '#000', callback: fmt, autoSkip: false },
          grid: { display: false, drawTicks: false }, border: { display: false },
          afterFit: s => { s.width = fitSize.w; s.paddingTop = 0; s.paddingBottom = 0; }
        }
      }
    },
    plugins: [gnuFrame(cfg)]
  });
  // nudge the layout until the plot box sits where the reference has it
  for (let k = 0; k < 4; k++) {
    const a = chart.chartArea;
    const dL = L - a.left, dT = T - a.top, dR = a.right - R, dB = a.bottom - B;
    if (Math.abs(dL) + Math.abs(dT) + Math.abs(dR) + Math.abs(dB) < 0.5) break;
    fitSize.w += dL; fitSize.h += dB;
    pad.top += dT; pad.right += dR;
    chart.options.layout.padding = { ...pad };
    chart.update('none');
  }
}

panel('pa', {
  x: [0, 30, 5], y: [0, 30, 5], area: [189, 41, 1496, 917],
  xTitle: 'time (s)', yTitle: 'A(dB)', caption: '(a)', yTitleOff: 145, keyW: 396, keyRows: 3,
  lines: [
    { label: 'NLMS', color: RED, data: fromTime(aNlms) },
    { label: 'Proposed', color: BLUE, data: fromTime(aProposed) },
    { label: 'SAF', color: BLACK, data: fromTime(aSaf) }
  ]
});
panel('pb', {
  x: [0, 30, 5], y: [0, 5, 0.5], area: [219, 41, 1501, 917],
  xTitle: 'time (s)', yTitle: 'A(dB)', caption: '(b)', yTitleOff: 174, keyW: 396, keyRows: 3,
  lines: [
    { label: 'NLMS', color: RED, data: fromTime(bNlms) },
    { label: 'Proposed', color: BLUE, data: fromPairs(bProposed) },
    { label: 'SAF', color: BLACK, data: fromPairs(bSaf) }
  ]
});
panel('pc', {
  x: [0, 8000, 1000], y: [-60, 20, 10], area: [189, 44, 1496, 918],
  xTitle: 'f (Hz)', yTitle: 'magnitude(dB)', caption: '(c)', yTitleOff: 145, keyW: 396, keyRows: 4,
  lines: [
    { label: 'd(n)', color: GREEN, data: fromPairs(cDn) },
    { label: 'NLMS', color: RED, data: fromPairs(cNlms) },
    { label: 'SAF', color: BLACK, data: fromPairs(cSaf) },
    { label: 'Proposed', color: BLUE, data: fromPairs(cProposed) }
  ]
});
panel('pd', {
  x: [0, 8000, 1000], y: [-60, 20, 10], area: [193, 44, 1500, 918],
  xTitle: 'f (Hz)', yTitle: 'magnitude(dB)', caption: '(d)', yTitleOff: 149, keyW: 316, keyRows: 3,
  lines: [
    { label: 'd(n)', color: GREEN, data: fromPairs(dDn) },
    { label: 'NLMS', color: RED, data: fromPairs(dNlms) }
  ]
});
</script>
</body>
</html>
